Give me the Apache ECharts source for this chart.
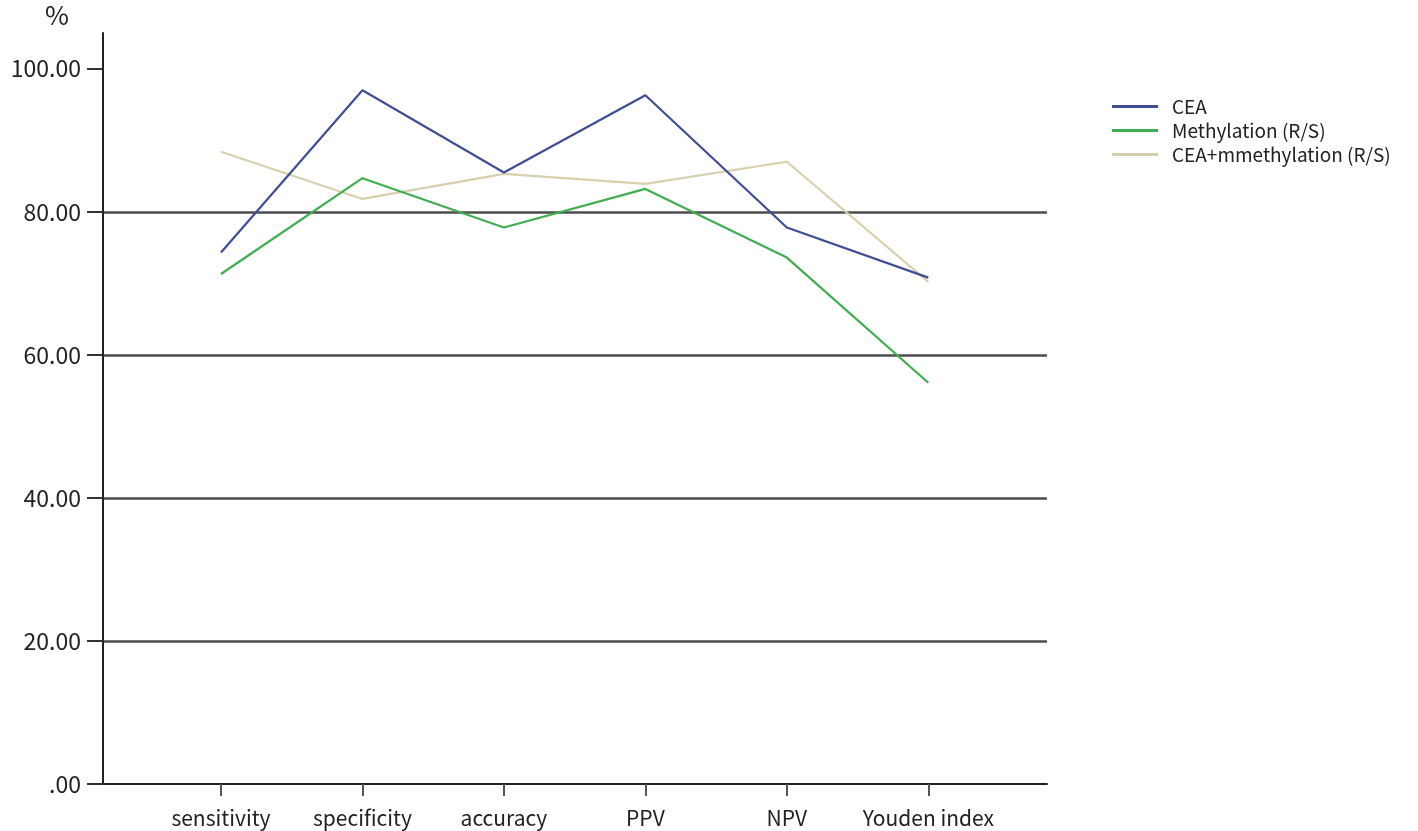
<!DOCTYPE html>
<html>
<head>
<meta charset="utf-8">
<title>CEA vs methylation</title>
<script src="https://cdn.jsdelivr.net/npm/echarts@6/dist/echarts.min.js"></script>
<style>
  html, body { margin: 0; padding: 0; background: #fff; }
  #chart { width: 1418px; height: 831px; }
</style>
</head>
<body>
<div id="chart"></div>
<script>
const categories = ['sensitivity', 'specificity', 'accuracy', 'PPV', 'NPV', 'Youden index']
const seriesNames = ['CEA', 'Methylation (R/S)', 'CEA+mmethylation (R/S)']
const ceaValues = [74.3, 97.0, 85.5, 96.3, 77.8, 70.8]
const methylationValues = [71.3, 84.7, 77.8, 83.2, 73.6, 56.1]
const combinedValues = [88.4, 81.8, 85.3, 83.9, 87.0, 70.2]
const yTicks = [0, 20, 40, 60, 80, 100]

const colors = ['#3f4d97', '#3fae4e', '#d8d0ad']
const font = '"Noto Sans CJK SC", "Noto Sans", sans-serif'
const catIdx = categories.map((c, i) => i)

const chart = echarts.init(document.getElementById('chart'))

const toPoints = vals => vals.map((v, i) => [i, v])

const series = [ceaValues, methylationValues, combinedValues].map((vals, i) => {
  return {
    name: seriesNames[i],
    type: 'line',
    data: toPoints(vals),
    symbol: 'none',
    lineStyle: { width: 2.2, color: colors[i] },
    itemStyle: { color: colors[i] },
    z: 3 - i
  }
})

chart.setOption({
  animation: false,
  title: {
    text: '%',
    left: 40,
    top: -3,
    textStyle: { fontFamily: font, fontSize: 26, fontWeight: 'normal', color: '#222' }
  },
  legend: {
    orient: 'vertical',
    left: 1107,
    top: 92,
    itemWidth: 46,
    itemHeight: 3,
    itemGap: 5,
    icon: 'rect',
    data: seriesNames,
    textStyle: { fontFamily: font, fontSize: 19, color: '#222', padding: [0, 0, 0, 9] }
  },
  grid: {
    left: 103,
    right: 371,
    top: 33,
    bottom: 47,
    containLabel: false
  },
  xAxis: {
    type: 'value',
    min: -0.834,
    max: 5.839,
    axisLine: { show: true, onZero: false, lineStyle: { color: '#222', width: 2 } },
    axisTick: {
      show: true,
      customValues: catIdx,
      length: 12,
      lineStyle: { color: '#555', width: 2 }
    },
    axisLabel: {
      customValues: catIdx,
      margin: 24,
      fontFamily: font,
      fontSize: 21,
      color: '#222',
      formatter: v => categories[Math.round(v)]
    },
    splitLine: { show: false }
  },
  yAxis: {
    type: 'value',
    min: 0,
    max: 105,
    interval: 20,
    axisLine: { show: true, onZero: false, lineStyle: { color: '#222', width: 2 } },
    axisTick: {
      show: true,
      customValues: yTicks,
      length: 16,
      lineStyle: { color: '#333', width: 2 }
    },
    axisLabel: {
      customValues: yTicks,
      margin: 22,
      fontFamily: font,
      fontSize: 23,
      color: '#222',
      formatter: v => (v === 0 ? '.00' : v.toFixed(2))
    },
    splitLine: {
      show: true,
      showMaxLine: false,
      showMinLine: false,
      lineStyle: { color: '#4d4d4d', width: 2.5 }
    }
  },
  series: series
})
</script>
</body>
</html>
